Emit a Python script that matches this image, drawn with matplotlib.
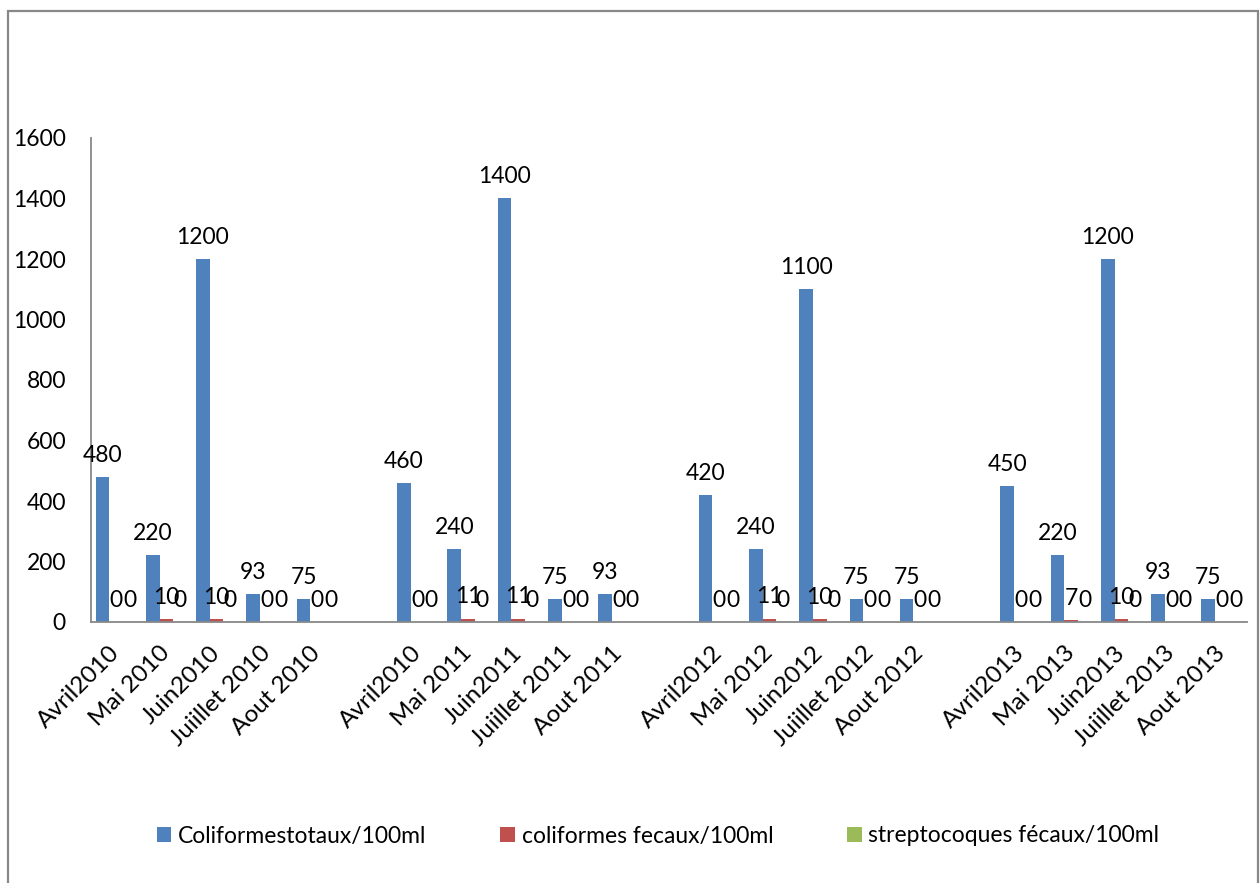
import matplotlib
matplotlib.use("Agg")
import matplotlib.pyplot as plt
from matplotlib.patches import Rectangle, Patch
import numpy as np

plt.rcParams['font.family'] = ['Lato', 'DejaVu Sans']

categories = ["Avril2010", "Mai 2010", "Juin2010", "Juiillet 2010", "Aout 2010", "",
              "Avril2010", "Mai 2011", "Juin2011", "Juiillet 2011", "Aout 2011", "",
              "Avril2012", "Mai 2012", "Juin2012", "Juiillet 2012", "Aout 2012", "",
              "Avril2013", "Mai 2013", "Juin2013", "Juiillet 2013", "Aout 2013"]

# None marks the empty spacer slots between years
coliformes_totaux = [480, 220, 1200, 93, 75, None,
                     460, 240, 1400, 75, 93, None,
                     420, 240, 1100, 75, 75, None,
                     450, 220, 1200, 93, 75]
coliformes_fecaux = [0, 10, 10, 0, 0, None,
                     0, 11, 11, 0, 0, None,
                     0, 11, 10, 0, 0, None,
                     0, 7, 10, 0, 0]
streptocoques_fecaux = [0, 0, 0, 0, 0, None,
                        0, 0, 0, 0, 0, None,
                        0, 0, 0, 0, 0, None,
                        0, 0, 0, 0, 0]

series_names = ["Coliformestotaux/100ml", "coliformes fecaux/100ml",
                "streptocoques fécaux/100ml"]
series_values = [coliformes_totaux, coliformes_fecaux, streptocoques_fecaux]
colors = ["#4F81BD", "#C0504D", "#9BBB59"]

W, H = 1260, 883
fig = plt.figure(figsize=(W / 100, H / 100), dpi=100)
ax = fig.add_axes([91 / W, 1 - 622 / H, (1247 - 91) / W, (622 - 138) / H])

x = np.arange(len(categories))
bw = 0.272
offsets = [-bw, 0, bw]

for vals, off, col in zip(series_values, offsets, colors):
    xs = [xi + off for xi, v in zip(x, vals) if v is not None]
    vs = [v for v in vals if v is not None]
    ax.bar(xs, vs, width=bw, color=col, zorder=2)
    for xi, v in zip(xs, vs):
        ax.annotate(str(v), (xi, v), xytext=(0, 11), textcoords="offset points",
                    ha="center", va="baseline", fontsize=16.5, color="black",
                    zorder=3)

ax.set_xlim(-0.5, len(categories) - 0.5)
ax.set_ylim(0, 1600)
ax.set_yticks(np.arange(0, 1601, 200))
ax.set_xticks(x)
ax.set_xticklabels(categories, rotation=45, ha="right", va="center",
                   rotation_mode="anchor", fontsize=17.5)
ax.tick_params(axis="x", length=0, pad=20)
ax.tick_params(axis="y", length=0, pad=18, labelsize=16.5)

for s in ["top", "right"]:
    ax.spines[s].set_visible(False)
for s in ["left", "bottom"]:
    ax.spines[s].set_color("#888888")
    ax.spines[s].set_linewidth(1.3)

handles = [Patch(facecolor=c, edgecolor="none") for c in colors]
fig.legend(handles, series_names, loc="center", ncol=3,
           bbox_to_anchor=(658 / W, 1 - 836 / H), frameon=False, fontsize=16.5,
           handlelength=0.65, handleheight=0.65, handletextpad=0.3,
           columnspacing=3.2)

# outer chart border
fig.add_artist(Rectangle((7.5 / W, -0.05), (1258 - 7.5) / W, 1.05 - 11 / H,
                         transform=fig.transFigure, fill=False,
                         edgecolor="#888888", linewidth=1.6))

fig.savefig("out.png", dpi=100)
